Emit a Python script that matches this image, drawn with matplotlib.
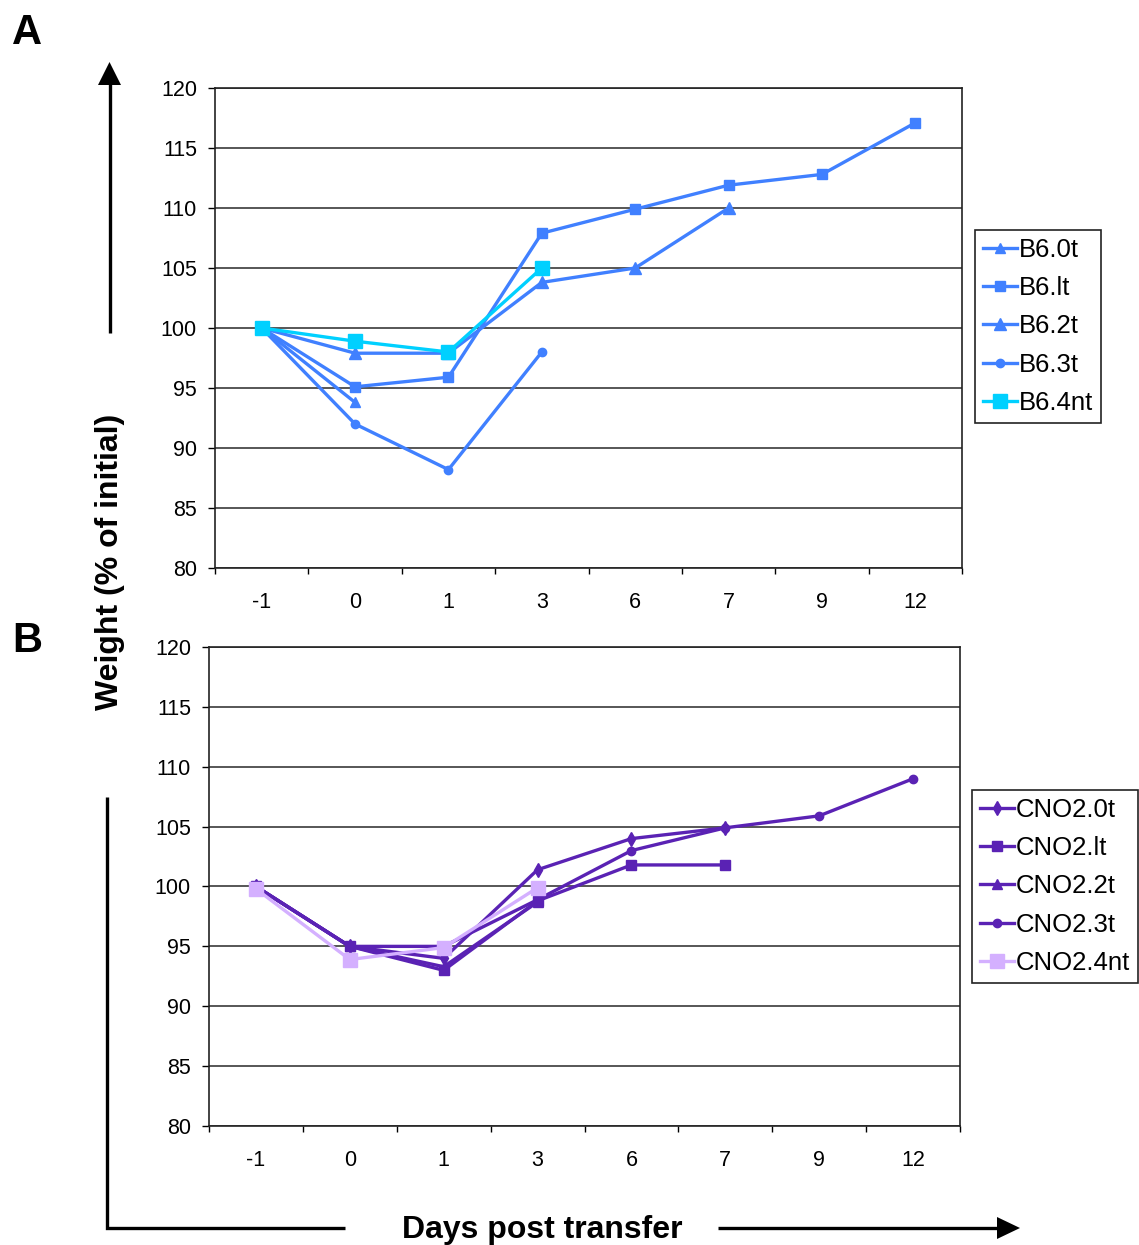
import numpy as np
import matplotlib
matplotlib.use("Agg")
import matplotlib.pyplot as plt

plt.rcParams['font.family'] = ['Liberation Sans', 'DejaVu Sans']

nan = np.nan
days = ['-1', '0', '1', '3', '6', '7', '9', '12']

# Panel A (B6)
b6_labels = ['B6.0t', 'B6.lt', 'B6.2t', 'B6.3t', 'B6.4nt']
b6_0t = [100, 93.8, nan, nan, nan, nan, nan, nan]
b6_1t = [100, 95.1, 95.9, 107.9, 109.9, 111.9, 112.8, 117.1]
b6_2t = [100, 97.9, 97.9, 103.8, 105.0, 110.0, nan, nan]
b6_3t = [100, 92.0, 88.2, 98.0, nan, nan, nan, nan]
b6_4nt = [100, 98.9, 98.0, 105.0, nan, nan, nan, nan]

# Panel B (CNO2)
cno_labels = ['CNO2.0t', 'CNO2.lt', 'CNO2.2t', 'CNO2.3t', 'CNO2.4nt']
cno_0t = [100, 95.0, 94.0, 101.4, 104.0, 104.9, nan, nan]
cno_1t = [100, 95.0, 93.0, 98.8, 101.8, 101.8, nan, nan]
cno_2t = [100, 95.0, 93.3, 98.7, nan, nan, nan, nan]
cno_3t = [100, 95.0, 95.0, 98.9, 103.0, 104.9, 105.9, 109.0]
cno_4nt = [99.8, 93.9, 94.9, 99.9, nan, nan, nan, nan]

W, H = 1139, 1245
fig = plt.figure(figsize=(W / 100, H / 100), dpi=100)

blue = '#4080ff'
cyan = '#00d0ff'
dpurple = '#5a22b4'
lpurple = '#d4b0ff'


def fr(x0, y0, x1, y1):
    return [x0 / W, 1 - y1 / H, (x1 - x0) / W, (y1 - y0) / H]


def setup(ax):
    x = np.arange(len(days))
    ax.set_xlim(-0.5, len(days) - 0.5)
    ax.set_ylim(80, 120)
    ax.set_yticks(np.arange(80, 121, 5))
    ax.tick_params(axis='y', direction='out', length=5, width=1, pad=8, labelsize=15.5)
    ax.set_xticks(np.arange(-0.5, len(days), 1))
    ax.set_xticklabels([''] * (len(days) + 1))
    ax.tick_params(axis='x', which='major', direction='out', length=4, width=1)
    ax.set_xticks(x, minor=True)
    ax.set_xticklabels(days, minor=True)
    ax.tick_params(axis='x', which='minor', length=0, pad=17, labelsize=15.5)
    ax.grid(axis='y', color='#3a3a3a', linewidth=1.2)
    ax.set_axisbelow(True)
    for s in ax.spines.values():
        s.set_linewidth(1.2)
        s.set_color('#222222')
    return x


def legend(ax, x0, y0):
    leg = ax.legend(loc='upper left', bbox_to_anchor=(x0 / W, 1 - y0 / H),
                    bbox_transform=fig.transFigure, borderaxespad=0, fancybox=False,
                    edgecolor='#222222', framealpha=1, fontsize=18.5, handlelength=1.35,
                    handletextpad=0.05, labelspacing=0.56, borderpad=0.3)
    leg.get_frame().set_linewidth(1.2)
    return leg


lw = 2.4

# Panel A
axA = fig.add_axes(fr(215, 88, 962, 568))
x = setup(axA)
axA.plot(x, b6_0t, color=blue, lw=lw, marker='^', ms=7, label=b6_labels[0])
axA.plot(x, b6_1t, color=blue, lw=lw, marker='s', ms=7, label=b6_labels[1])
axA.plot(x, b6_2t, color=blue, lw=lw, marker='^', ms=9, label=b6_labels[2])
axA.plot(x, b6_3t, color=blue, lw=lw, marker='o', ms=6, label=b6_labels[3])
axA.plot(x, b6_4nt, color=cyan, lw=lw, marker='s', ms=10, label=b6_labels[4])
legend(axA, 975, 230)

# Panel B
axB = fig.add_axes(fr(209, 647, 960, 1126))
x = setup(axB)
axB.plot(x, cno_0t, color=dpurple, lw=lw, marker='d', ms=7, label=cno_labels[0])
axB.plot(x, cno_1t, color=dpurple, lw=lw, marker='s', ms=7, label=cno_labels[1])
axB.plot(x, cno_2t, color=dpurple, lw=lw, marker='^', ms=7, label=cno_labels[2])
axB.plot(x, cno_3t, color=dpurple, lw=lw, marker='o', ms=6, label=cno_labels[3])
axB.plot(x, cno_4nt, color=lpurple, lw=lw, marker='s', ms=10, label=cno_labels[4])
legend(axB, 972, 790)

# Overlay for annotations (pixel coordinates)
ov = fig.add_axes([0, 0, 1, 1], facecolor='none')
ov.set_xlim(0, W)
ov.set_ylim(H, 0)
ov.axis('off')

ov.text(27, 33, 'A', fontsize=30, fontweight='bold', ha='center', va='center')
ov.text(27, 641, 'B', fontsize=30, fontweight='bold', ha='center', va='center')
ov.text(110, 562, 'Weight (% of initial)', fontsize=23, fontweight='bold',
        rotation=90, ha='center', va='center')
ov.text(542, 1230, 'Days post transfer', fontsize=23, fontweight='bold',
        ha='center', va='center')

# vertical arrow upward
ov.plot([109.5, 109.5], [333, 82], color='black', lw=2.4, solid_capstyle='butt')
ov.fill([98, 121, 109.5], [85, 85, 62], color='black', lw=0)
# lower L-shaped line
ov.plot([107, 107, 345], [797, 1228, 1228], color='black', lw=2.4,
        solid_capstyle='butt', solid_joinstyle='miter')
# horizontal arrow right
ov.plot([718, 1000], [1228, 1228], color='black', lw=2.4, solid_capstyle='butt')
ov.fill([997, 997, 1020], [1217, 1239, 1228], color='black', lw=0)

fig.savefig('out.png', dpi=100)
